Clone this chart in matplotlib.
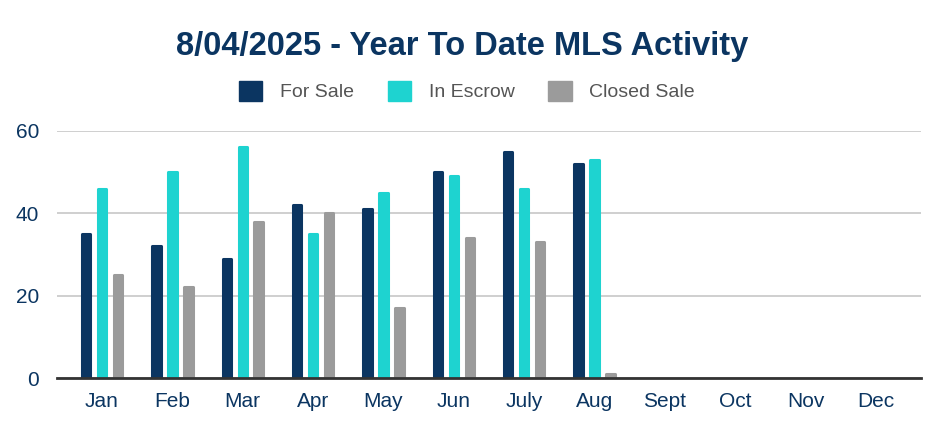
import numpy as np
import matplotlib
matplotlib.use("Agg")
import matplotlib.pyplot as plt
from matplotlib.patches import Patch

plt.rcParams['font.family'] = ['Liberation Sans', 'DejaVu Sans']

months = ["Jan", "Feb", "Mar", "Apr", "May", "Jun", "July", "Aug",
          "Sept", "Oct", "Nov", "Dec"]
for_sale = [35, 32, 29, 42, 41, 50, 55, 52, 0, 0, 0, 0]
in_escrow = [46, 50, 56, 35, 45, 49, 46, 53, 0, 0, 0, 0]
closed_sale = [25, 22, 38, 40, 17, 34, 33, 1, 0, 0, 0, 0]

series = [("For Sale", for_sale, "#0b3561"),
          ("In Escrow", in_escrow, "#1ed3d0"),
          ("Closed Sale", closed_sale, "#9b9b9b")]

navy = "#0b3561"

fig = plt.figure(figsize=(9.49, 4.21), dpi=100)
ax = fig.add_axes([57 / 949, 1 - 378 / 421, (921 - 57) / 949, (378 - 131) / 421])

x = np.arange(len(months))
w = 0.12
off = 0.227
for i, (name, vals, col) in enumerate(series):
    lws = [2.2 if v > 0 else 0 for v in vals]
    ax.bar(x + (i - 1) * off, vals, width=w, color=col, edgecolor=col,
           linewidth=lws, joinstyle='round', zorder=3)

ax.set_xlim(-0.64, len(months) - 1 + 0.64)
ax.set_ylim(0, 60)
ax.set_yticks([0, 20, 40, 60])
ax.set_xticks(x)
ax.set_xticklabels(months)
ax.tick_params(axis='both', length=0, labelsize=15, labelcolor=navy)
ax.tick_params(axis='x', pad=10)
ax.tick_params(axis='y', pad=13)
ax.grid(axis='y', color='#cccccc', linewidth=1.3, zorder=0)
ax.set_axisbelow(True)
for s in ['top', 'right', 'left']:
    ax.spines[s].set_visible(False)
ax.spines['bottom'].set_color('#333333')
ax.spines['bottom'].set_linewidth(2)
ax.spines['bottom'].set_zorder(4)

fig.text(0.487, 1 - 46 / 421, "8/04/2025 - Year To Date MLS Activity",
         ha='center', va='center', fontsize=23.5, fontweight='bold', color=navy)

handles = [Patch(facecolor=c, edgecolor=c, label=n) for n, _, c in series]
leg = fig.legend(handles=handles, loc='center', bbox_to_anchor=(0.492, 1 - 91 / 421),
                 ncol=3, frameon=False, fontsize=14, handlelength=1.2,
                 handleheight=1.2, handletextpad=0.9, columnspacing=1.75)
for t in leg.get_texts():
    t.set_color('#555555')

fig.savefig("out.png", dpi=100)
